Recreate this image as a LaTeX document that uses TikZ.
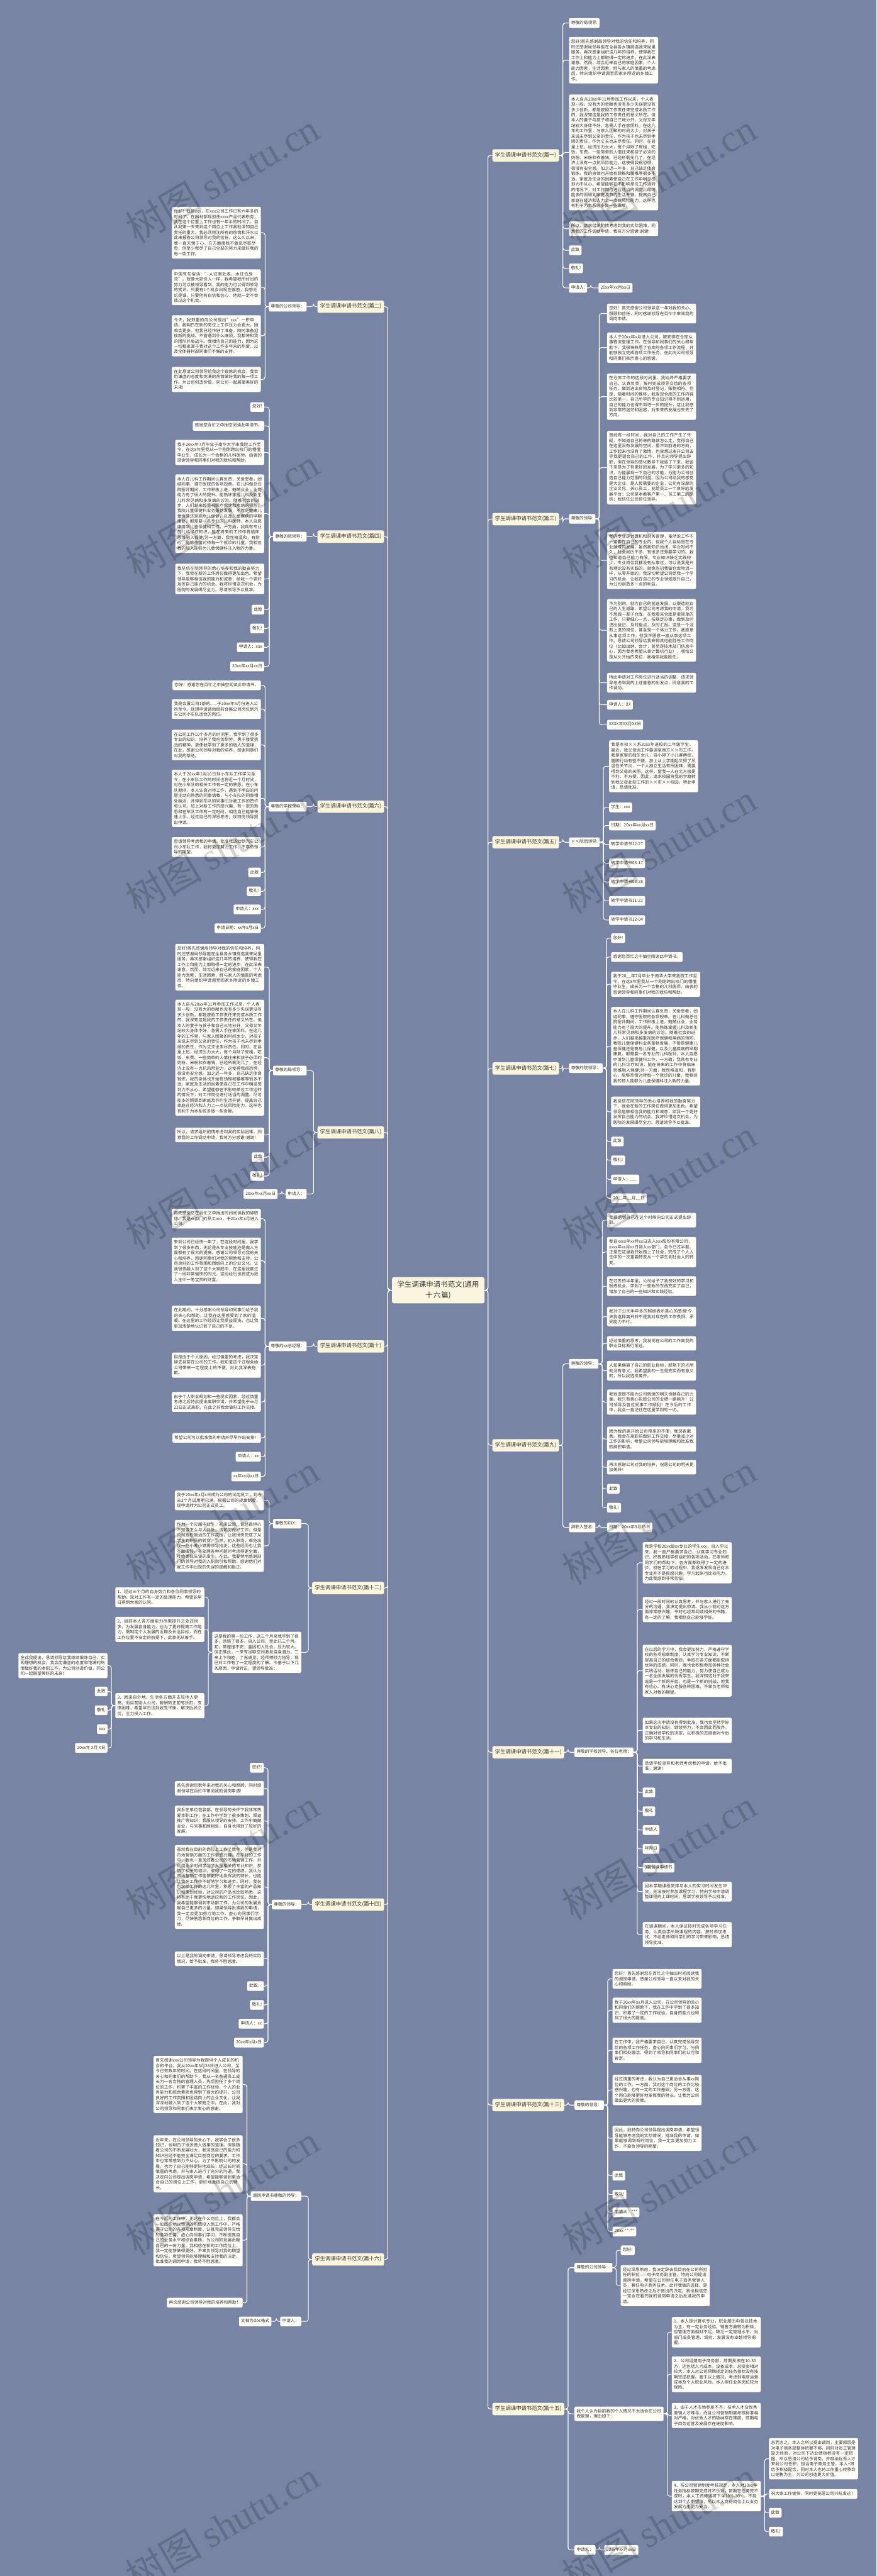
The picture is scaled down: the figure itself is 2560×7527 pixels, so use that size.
\documentclass[tikz,border=0pt]{standalone}
\usepackage{fontspec}
\setmainfont{Noto Sans CJK SC}
\newfontfamily\wmlat{Liberation Serif}
\XeTeXlinebreaklocale "zh"
\XeTeXlinebreakskip=0pt plus 1pt
\definecolor{bgc}{HTML}{7784A4}
\definecolor{boxc}{HTML}{FFFEF8}
\definecolor{ttlc}{HTML}{FBF5DD}
\definecolor{txtc}{HTML}{333333}
\definecolor{linec}{HTML}{FFFFFF}
\tikzset{
  bx/.style={fill=boxc, rounded corners=4pt, inner xsep=6pt, text=txtc, font=\fontsize{12.3}{15.6}\selectfont, align=left},
  sl/.style={bx, inner ysep=6.5pt, text height=10.8pt, text depth=4.4pt},
  para/.style={bx, inner ysep=7.5pt, text width=248pt},
  ttl/.style={fill=ttlc, rounded corners=5pt, inner xsep=8pt, inner ysep=10pt, text height=12pt, text depth=4pt, text=txtc, font=\fontsize{15.3}{18}\selectfont},
  ctr/.style={fill=ttlc, rounded corners=6pt, inner xsep=11pt, inner ysep=12pt, text width=248pt, align=center, text=txtc, font=\fontsize{21}{31}\selectfont},
  conn/.style={draw=linec, line width=2pt, rounded corners=7pt},
  wm/.style={rotate=30, text=black, text opacity=0.17, font=\fontsize{112}{112}\selectfont}
}
\newcommand\conR[2]{\draw[conn] (#1.east) -- ++(11pt,0pt) |- (#2.west);}
\newcommand\conL[2]{\draw[conn] (#1.west) -- ++(-11pt,0pt) |- (#2.east);}
\newcommand\pyiA{您好!首先感谢局领导对我的信任和培养，同时还感谢局领导能在全县各乡镇挑选我来局里服务，再次感谢组织这几年的培养，使得我在工作上和能力上都取得一定的进步，在此深表谢意。然而，综合近来自己的家庭因素，个人能力因素，生活因素，经与家人的慎重的考虑后，特向组织申请调至回家乡附近的乡镇工作。}
\newcommand\pyiB{本人自从20xx年11月参加工作以来，个人表现一般，没有大的贡献也没有多少失误更没有多少创新，都是按照工作责任来完成本质工作的，我深知这是我的工作责任的意义所在。但本人的妻子与孩子和自己三地分开，父母又年纪较大身体不好，急需人手在家照料。在这几年的工作里，与家人团聚的时间太少，对孩子来说未尽到父亲的责任，作为孩子也未尽到孝顺的责任，作为丈夫也未尽责任。同时，在县里上班，经济压力太大，每个月除了房租，吃饭，车费、一些简单的人情往来和孩子必须的奶粉、米粉和衣着钱，已经所剩无几了，在经济上没有一点抗风险能力，这使得我很恐惧，很没有安全感。加之近一年多，自己缺乏体育锻炼，我的身体也开始有颈椎和腰椎等很多不适。家庭及生活的因素使自己在工作中明显感到力不从心。希望能够在不影响单位工作运转的情况下，对工作岗位进行适当的调整。尽可能多的照顾到家庭及节约生活开销，提高自己家庭在经济和人力上一点抗风险能力，这样也有利于为本系统多做一些贡献。}
\newcommand\pyiC{所以，请求组织酌情考虑到我的实际困难，同意我的工作调动申请，我将万分感谢!谢谢!}
\newcommand\pqiA{我于20xx年7月毕业于南华大学来我院工作至今，在这8年里我从一个刚刚跨出校门的懵懂毕业生，成长为一个合格的儿科医师，由衷的感谢领导和同事们对我的栽培和帮助。}
\newcommand\pqiB{本人在儿科工作期间认真负责，关爱患者，团结同事，遵守医院的各项规章。在儿科做总住院医师期间，工作积极上进，兢兢业业，业务能力有了很大的提升。能熟练掌握儿科及新生儿科常见病和多发病的诊治。随着社会的进步，人们越来越重视医疗保健和疾病的预防，我院儿童保健科业务蓬勃发展，不管是健康儿童保健还是高危儿保健，以及儿童疾病的早期康复，都需要一名专业的儿科医师，本人自愿申请到儿童保健科工作，一方面，我具有专业的儿科诊疗知识，能在将来的工作中将临床思维融入保健;另一方面，我性格温和，有耐心，能够热情对待每一个就诊的儿童，我相信我的加入能够为儿童保健科注入新的力量。}
\newcommand\pqiC{我坚信在院领导的悉心培养和我的勤奋努力下，我会在新的工作岗位做得更加出色。希望领导能够相信我的能力和诚意，给我一个更好发挥自己能力的机会。我将珍惜这次机会，为医院的发展竭尽全力。恳请领导予以批准。}
\begin{document}
\begin{tikzpicture}[x=1pt,y=-1pt]
\useasboundingbox (0,0) rectangle (2560,7527);
\fill[bgc] (0,0) rectangle (2560,7527);

% ---------- centre
\node[ctr] (c) at (1280,3770) {学生调课申请书范文(通用\\十六篇)};

% ---------- RIGHT: 篇一
\node[ttl, anchor=west] (t1) at (1438,454) {学生调课申请书范文(篇一)};
\node[sl, anchor=north west] (a1) at (1662,53) {尊敬的局领导:};
\node[para, anchor=north west] (a2) at (1662,108) {\pyiA};
\node[para, anchor=north west] (a3) at (1662,276) {\pyiB};
\node[para, anchor=north west] (a4) at (1662,647) {\pyiC};
\node[sl, anchor=north west] (a5) at (1662,717) {此致};
\node[sl, anchor=north west] (a6) at (1662,770) {敬礼!};
\node[sl, anchor=north west] (a7) at (1662,827) {申请人:};
\node[sl, anchor=north west] (a8) at (1748,827) {20xx年xx月xx日};

% ---------- RIGHT: 篇三
\node[ttl, anchor=west] (t3) at (1438,1517) {学生调课申请书范文(篇三)};
\node[sl, anchor=west] (b0) at (1662,1516) {尊敬的领导:};
\node[para, anchor=north west] (b1) at (1773,887) {您好！首先感谢公司领导这一年对我的关心、照顾和信任，同时感谢领导在百忙中审阅我的调岗申请。};
\node[para, anchor=north west] (b2) at (1773,971) {本人于20xx年x月进入公司，被安排在仓库从事物流管理工作。在领导和同事们的关心和帮助下，我很快熟悉了仓库的各项工作流程，并能够独立完成各项工作任务，在此向公司领导和同事们表示衷心的感谢。};
\node[para, anchor=north west] (b3) at (1773,1091) {在仓库工作的这段时间里，我始终严格要求自己，认真负责，按时完成领导交给的各项任务，做到进出货物及时登记，账物相符。但是，随着时间的推移，我发现仓库的工作内容比较单一，自己所学的专业知识得不到运用，自己的能力也得不到进一步的提升，这让我感到非常的迷茫和困惑，对未来的发展也失去了方向。};
\node[para, anchor=north west] (b4) at (1773,1259) {曾经有一段时间，我对自己的工作产生了怀疑，不知道自己将来的路该怎么走，觉得自己在这里没有发展的空间，看不到前进的方向，工作起来也没有了激情，也曾想过离开公司去寻找更适合自己的工作，并且向领导提出辞职，但在领导的感化教导下我留了下来，我留下来是为了有更好的发展，为了学习更多的知识，为能展现一下自己的才能，为能为公司创造自己能力范围的利益。因为公司给我的感觉是大企业，是人民需要的企业，公司有深厚的企业文化，关心员工，能给员工一个良好的发展平台；公司是本着客户第一、员工第二的原则；我信任公司信任领导。};
\node[para, anchor=north west] (b5) at (1773,1554) {我的专业是计算机和财务管理，虽然说工作不一定要在自己的专业内，但我个人目标是在专业领域内发展，虽然我知识尚浅，毕业时间不久，社会阅历不多，有很多还需要学习的。我也知道自己能力有限，专业知识缺乏实践较少，专业岗位我都没有从事过，可以说我是只有理论没有实践的。就像当初我做仓库物流一样，从零开始的。我深切希望公司给我一个学习的机会，让我在自己的专业领域提升自己，为公司创造多一点的利益。};
\node[para, anchor=north west] (b6) at (1773,1750) {不为别的，就为自己的前途发展，以便造就自己的人生道路，希望公司考虑我的申请。我可不想做一辈子仓库，在我看来仓库是很简单的工作，只要细心一点，按规定办事，做到及时进出登记，及时盘点，及时汇报。这是一个没有上进的岗位，甚至是一个体力工作。我愿意从事这项工作，但我不愿意一直从事这项工作。恳请公司领导给我安排其他能胜任工作岗位（比如出纳、会计，甚至是技术部门信息中心，因为我也希望从事计算机行业），哪怕又是从头开始的岗位，我相信我能胜任。};
\node[para, anchor=north west] (b7) at (1773,1966) {特此申请对工作岗位进行适当的调整，请求领导考虑到我的上述善意的出发点，同意我的工作调动。};
\node[sl, anchor=north west] (b8) at (1773,2045) {申请人：XX};
\node[sl, anchor=north west] (b9) at (1773,2103) {XXXX年XX月XX日};

% ---------- RIGHT: 篇五
\node[ttl, anchor=west] (t5) at (1438,2461) {学生调课申请书范文(篇五)};
\node[sl, anchor=west] (c0) at (1662,2461) {××院团领导:};
\node[para, anchor=north west] (c1) at (1779,2163) {我是本校××系20xx年进校的二年级学生。最近，我父母因工作要调至南方××市工作。我是家里的独生女儿，自小得了小儿麻痹症，腿脚行动有些不便，加上从上学期起又得了风湿性关节炎，一个人独立生活有所困难，需要得到父母的关照，这样，留我一人在北方极是不利，不方便，因此，请求校园将我的学籍转到我父母此刻工作的××市××校园。特此申请，恳请批准。};
\node[sl, anchor=north west] (c2) at (1779,2345) {学生：xxx};
\node[sl, anchor=north west] (c3) at (1779,2398) {日期：20xx年xx月xx日};
\node[sl, anchor=north west] (c4) at (1779,2453) {转学申请书12-27};
\node[sl, anchor=north west] (c5) at (1779,2508) {转学申请书05-17};
\node[sl, anchor=north west] (c6) at (1779,2563) {转学申请书03-28};
\node[sl, anchor=north west] (c7) at (1779,2618) {转学申请书11-21};
\node[sl, anchor=north west] (c8) at (1779,2674) {转学申请书12-04};

% ---------- RIGHT: 篇七
\node[ttl, anchor=west] (t7) at (1438,3122) {学生调课申请书范文(篇七)};
\node[sl, anchor=west] (d0) at (1662,3121) {尊敬的院领导：};
\node[sl, anchor=north west] (d1) at (1785,2727) {您好!};
\node[sl, anchor=north west] (d2) at (1785,2782) {感谢您百忙之中抽空阅读此申请书。};
\node[para, anchor=north west] (d3) at (1785,2839) {我于20\_\_年7月毕业于南华大学来我院工作至今，在这8年里我从一个刚刚跨出校门的懵懂毕业生，成长为一个合格的儿科医师，由衷的感谢领导和同事们对我的栽培和帮助。};
\node[para, anchor=north west] (d4) at (1785,2942) {\pqiB};
\node[para, anchor=north west] (d5) at (1785,3204) {\pqiC};
\node[sl, anchor=north west] (d6) at (1785,3321) {此致};
\node[sl, anchor=north west] (d7) at (1785,3376) {敬礼!};
\node[sl, anchor=north west] (d8) at (1785,3432) {申请人：\_\_\_};
\node[sl, anchor=north west] (d9) at (1785,3487) {20\_\_年\_\_月\_\_日};

% ---------- RIGHT: 篇九
\node[ttl, anchor=west] (t9) at (1438,4223) {学生调课申请书范文(篇九)};
\node[sl, anchor=west] (e0) at (1662,3985) {尊敬的领导：};
\node[para, anchor=north west] (e1) at (1773,3544) {我很遗憾自己在这个时候向公司正式提出辞职。};
\node[para, anchor=north west] (e2) at (1773,3614) {我自xxxx年xx月xx日进入xxx股份有限公司，xxxx年xx月xx日调入xx部门，至今已过半载，正是在这里我开始踏上了社会，完成了个人人生中的一次重要转变从一个学生到社会人的转变。};
\node[para, anchor=north west] (e3) at (1773,3729) {在过去的半年里，公司给予了我良好的学习和锻炼机会，学到了一些新的东西充实了自己，增加了自己的一些知识和实践经验。};
\node[para, anchor=north west] (e4) at (1773,3818) {我对于公司半年多的照顾表示真心的感谢!今天我选择离开并不是我对现在的工作畏惧，承受能力不行。};
\node[para, anchor=north west] (e5) at (1773,3904) {经过慎重的思考，我发现在公司的工作离我的职业目标渐行渐远。};
\node[para, anchor=north west] (e6) at (1773,3976) {人如果偏离了自己的职业目标，那剩下的光阴就没有意义。我希望我的一生是充实而有意义的，所以我选择离开。};
\node[para, anchor=north west] (e7) at (1773,4060) {我很遗憾不能为公司辉煌的明天贡献自己的力量。我只有衷心祝愿公司的业绩一路飙升！公司领导及各位同事工作顺利！在今后的工作中，我会一直记住在这里学到的一切。};
\node[para, anchor=north west] (e8) at (1773,4168) {因为我的离开给公司带来的不便，我深表歉意。我会在离职前做好工作交接，尽量减少对工作的影响，希望公司领导能够理解和批准我的辞职申请。};
\node[para, anchor=north west] (e9) at (1773,4266) {再次感谢公司对我的培养，祝愿公司的明天更加美好！};
\node[sl, anchor=north west] (e10) at (1773,4336) {此致};
\node[sl, anchor=north west] (e11) at (1773,4391) {敬礼!};
\node[sl, anchor=west] (e12) at (1662,4463) {辞职人签名:};
\node[sl, anchor=west] (e13) at (1773,4463) {日期：20xx年3月25日};

% ---------- RIGHT: 篇十一
\node[ttl, anchor=west] (t11) at (1438,5120) {学生调课申请书范文(篇十一)};
\node[sl, anchor=west] (f0) at (1678,5120) {尊敬的学校领导、各位老师：};
\node[para, anchor=north west] (f1) at (1877,4506) {我是学校20xx级xx专业的学生xxx，自入学以来，我一直严格要求自己，认真学习专业知识，积极参加学校组织的各项活动，在老师和同学们的帮助下，各方面都取得了一定的进步。但在学习的过程中，我逐渐发现自己对本专业并不是很感兴趣，学习起来也比较吃力，为此我感到非常苦恼。};
\node[para, anchor=north west] (f2) at (1877,4666) {经过一段时间的认真思考，并与家人进行了充分的沟通，我决定提出申请。我从小就对这方面非常感兴趣，平时也经常阅读相关的书籍，有一定的了解，我相信自己能够学好。};
\node[para, anchor=north west] (f3) at (1877,4806) {在以后的学习中，我会更加努力，严格遵守学校的各项规章制度，认真学习专业知识，不断提高自己的综合素质，争取在各方面都能取得优异的成绩。同时，我也会积极参加各种社会实践活动，锻炼自己的能力，努力使自己成为一名全面发展的优秀学生。我深知这对于我来说是一个新的开始，也是一个新的挑战，但我有信心、有决心克服各种困难，不辜负老师和家人对我的期望。};
\node[para, anchor=north west] (f4) at (1877,5019) {如果这次申请没有得到批准，我也会坚持学好本专业的知识，继续努力，不会因此而放弃，正确对待学校的决定，以积极的态度面对今后的学习和生活。};
\node[para, anchor=north west] (f5) at (1877,5139) {恳请学校领导和老师考虑我的申请，给予批准，谢谢！};
\node[sl, anchor=north west] (f6) at (1877,5223) {此致};
\node[sl, anchor=north west] (f7) at (1877,5278) {敬礼};
\node[sl, anchor=north west] (f8) at (1877,5333) {申请人};
\node[sl, anchor=north west] (f9) at (1877,5388) {年月日};
\node[sl, anchor=north west] (f10) at (1877,5443) {3篇调课申请书};
\node[para, anchor=north west] (f11) at (1877,5498) {因本学期课程安排与本人的实习时间发生冲突，无法按时参加课程学习，特向学校申请调整课程的上课时间，恳请学校领导予以批准。};
\node[para, anchor=north west] (f12) at (1877,5616) {在调课期间，本人保证按时完成各项学习任务，认真自学所缺课程的内容，按时参加考试，不给老师和同学们的学习带来影响，恳请领导批准。};

% ---------- RIGHT: 篇十三
\node[ttl, anchor=west] (t13) at (1438,6151) {学生调课申请书范文(篇十三)};
\node[sl, anchor=west] (g0) at (1678,6151) {尊敬的领导：};
\node[para, anchor=north west] (g1) at (1789,5753) {您好！首先感谢您在百忙之中抽出时间阅读我的调岗申请，感谢公司领导一直以来对我的关心和照顾。};
\node[para, anchor=north west] (g2) at (1789,5837) {我于20xx年xx月进入公司，在公司领导的关心和同事们的帮助下，我在工作中学到了很多知识，积累了一定的工作经验，自身的能力也得到了很大的提高。};
\node[para, anchor=north west] (g3) at (1789,5954) {在工作中，我严格要求自己，认真完成领导交给的各项工作任务，虚心向同事们学习，与同事们相处融洽，得到了领导和同事们的认可和肯定。};
\node[para, anchor=north west] (g4) at (1789,6062) {经过慎重的考虑，我认为自己更适合从事xx岗位的工作。一方面，我对这个岗位的工作比较感兴趣，也有一定的工作基础；另一方面，这个岗位能够更好地发挥我的特长，让我为公司做出更大的贡献。};
\node[para, anchor=north west] (g5) at (1789,6211) {因此，我特向公司领导提出调岗申请，希望领导能够考虑我的实际情况，批准我的申请。如果能够调到新的岗位，我一定会更加努力工作，不辜负领导的期望。};
\node[sl, anchor=north west] (g6) at (1789,6343) {此致};
\node[sl, anchor=north west] (g7) at (1789,6398) {敬礼!};
\node[sl, anchor=north west] (g8) at (1789,6450) {申请人：***};
\node[sl, anchor=north west] (g9) at (1789,6506) {20xx-**-**};

% ---------- RIGHT: 篇十五
\node[ttl, anchor=west] (t15) at (1438,7039) {学生调课申请书范文(篇十五)};
\node[sl, anchor=west] (h0) at (1678,6626) {尊敬的公司领导：};
\node[sl, anchor=north west] (h1) at (1813,6561) {您好!};
\node[para, anchor=north west] (h2) at (1813,6618) {经过深思熟虑，我决定辞去我目前在公司所担任的职位——电子商务副主管，特向公司提出调岗申请，希望在公司担任电子商务营销人员，兼任电子商务技术。此时我做的选择，是经过深思熟虑之后才做出的决定。我也相信您一定会在看完我的调岗申请之后批准我的申请。};
\node[para, anchor=west] (h3) at (1678,7053) {我个人认为目前我的个人情况不太适合在公司做管理，理由如下：};
\node[para, anchor=north west] (h4) at (1962,6770) {1、本人是计算机专业，职业履历中曾以技术为主，有一定业务经验，销售方面较为积极，但管理方面相对不足，缺乏一定管理水平，对部门成员管理、调控、发展没有卓越领导把握。};
\node[para, anchor=north west] (h5) at (1962,6885) {2、公司组建电子商务部，前期投资在10-30万，还包括人力成本，设备成本，总投资相对较大，本人对公司预期规定的任务指标没有按期完成把握。鉴于以上情况，考虑到电商运营成本及个人职业风险，本人担任业务岗位较为保险。};
\node[para, anchor=north west] (h6) at (1962,7021) {3、由于人才市场参差不齐，技术人才及优秀营销人才难寻，而且公司营销制度考核标准相对严格，对优秀人才的吸纳存在难度，前期电子商务运营及发展存在进度影响。};
\node[para, anchor=north west] (h7) at (1962,7249) {4、按公司营销制度考核规定，本人对20xx年任务指标按期完成并不乐观，前期在任务完不成时，本人工资待遇将下浮10\%-30\%，不能达到个人期望值，所以本人觉得岗位上以业务发展为主更为妥当。};
\node[para, anchor=north west] (h8) at (2246,7124) {总而言之，本人之所以提出调岗，主要原因是对电子商务部整体把握不够，同时对员工管理缺乏经验，对公司下达业绩指标没有一定把握，所以恳请公司给予调岗，并吸纳优秀人才来我公司任职，担当电子商务主管，本人+将给予积极配合，同时本人也将工作重心转移到以销售为主，为公司创造更大价值。};
\node[sl, anchor=north west] (h9) at (2246,7273) {祝大家工作愉快，同时更祝愿公司兴旺发达！};
\node[sl, anchor=north west] (h10) at (2246,7328) {此致};
\node[sl, anchor=north west] (h11) at (2246,7383) {敬礼!};
\node[sl, anchor=west] (h12) at (1678,7451) {申请人：};
\node[sl, anchor=west] (h13) at (1765,7451) {20xx年xx月xx日};

% ---------- LEFT: 篇二
\node[ttl, anchor=east] (t2) at (1122,896) {学生调课申请书范文(篇二)};
\node[sl, anchor=east] (i0) at (896,896) {尊敬的公司领导：};
\node[para, anchor=north east] (i1) at (762,604) {你好！我是xxx，在xxx公司工作已有六年多的时间了。在器材部现担任xxxx产品代表职务，我在这个位置上工作也有一年半的时间了。自从我第一天来到这个岗位上工作我就深知自己责任的重大。我必须倾注所有的热情和汗水以此来报答公司领导对我的信任。这么久以来，我一直无愧于心，方方面面我不敢说尽职尽责，但至少我尽了自己全部的努力来做好我的每一项工作。};
\node[para, anchor=north east] (i2) at (762,787) {中国有句俗话："人往高处走，水往低处流"。就像大部份人一样，我希望我所付出的努力可以被领导看到，我的能力可以得到领导的赏识。只要有1个机会出现在面前，我想无论是谁，只要他有自信和信心，他就一定不会放过这个机会。};
\node[para, anchor=north east] (i3) at (762,921) {今天，我郑重的向公司提出"xxx"一职申请。我明白在新的岗位上工作压力会更大，困难会更多。但我已经作好了准备，随时准备迎接新的挑战。不管遇到什么麻烦，我都将和我的团队并肩战斗。我相信自己的能力，因为这一切都来源于我对这个工作多年来的热爱，以及全体器材部同事们不懈的支持。};
\node[para, anchor=north east] (i4) at (762,1072) {在此恳请公司领导给我这个锻炼的机会，我会用谦虚的态度和饱满的热情做好我的每一项工作。为公司创造价值，同公司一起展望美好的未来!};

% ---------- LEFT: 篇四
\node[ttl, anchor=east] (t4) at (1122,1568) {学生调课申请书范文(篇四)};
\node[sl, anchor=east] (j0) at (896,1568) {尊敬的院领导：};
\node[sl, anchor=north east] (j1) at (772,1175) {您好!};
\node[sl, anchor=north east] (j2) at (772,1230) {感谢您百忙之中抽空阅读此申请书。};
\node[para, anchor=north east] (j3) at (772,1285) {\pqiA};
\node[para, anchor=north east] (j4) at (772,1386) {\pqiB};
\node[para, anchor=north east] (j5) at (772,1647) {\pqiC};
\node[sl, anchor=north east] (j6) at (772,1767) {此致};
\node[sl, anchor=north east] (j7) at (772,1822) {敬礼!};
\node[sl, anchor=north east] (j8) at (772,1877) {申请人：xxx};
\node[sl, anchor=north east] (j9) at (772,1933) {20xx年xx月xx日};

% ---------- LEFT: 篇六
\node[ttl, anchor=east] (t6) at (1122,2357) {学生调课申请书范文(篇六)};
\node[sl, anchor=east] (k0) at (896,2357) {尊敬的学校领导：};
\node[sl, anchor=north east] (k1) at (762,1988) {您好！感谢您在百忙之中抽空阅读此申请书。};
\node[para, anchor=north east] (k2) at (762,2043) {我是会展公司1部的......于20xx年5月份进入公司至今。现想申请调动目前会展公司岗位到汽车公司小车队适合的岗位。};
\node[para, anchor=north east] (k3) at (762,2132) {在公司工作10个多月的时间里，我学到了很多专业的知识，培养了我吃苦耐劳，勇于接受挑战的精神，更使我学到了更多的做人的道理，在此，感谢公司领导对我的培养，感谢同事们对我的帮助。};
\node[para, anchor=north east] (k4) at (762,2249) {本人于20xx年2月10日到小车队工作学习至今，在小车队工作的时间也将近一个月时间，对在小车队的相关工作有一定的熟悉。在小车队期间，本人认真对待工作，遇到不明白的问题主动向熟悉的同事请教，与小车队的同事相处融洽，并得到车队的同事们对我工作的赞许和认可。加上对新工作的感兴趣，有一定的熟悉和在车队工作有一定时间，相信自己能够快速上手。经过自己的深思考虑，现特向领导提出申请。};
\node[para, anchor=north east] (k5) at (762,2446) {恳请领导考虑我的申请，批准我调动到汽车公司小车队工作，我将更加努力工作，不辜负领导的期望。};
\node[sl, anchor=north east] (k6) at (762,2535) {此致};
\node[sl, anchor=north east] (k7) at (762,2590) {敬礼!};
\node[sl, anchor=north east] (k8) at (762,2643) {申请人：xxx};
\node[sl, anchor=north east] (k9) at (762,2698) {申请日期：xx年x月x日};

% ---------- LEFT: 篇八
\node[ttl, anchor=east] (t8) at (1122,3309) {学生调课申请书范文(篇八)};
\node[sl, anchor=east] (l0) at (896,3128) {尊敬的局领导：};
\node[para, anchor=north east] (l1) at (772,2758) {\pyiA};
\node[para, anchor=north east] (l2) at (772,2921) {\pyiB};
\node[para, anchor=north east] (l3) at (772,3295) {\pyiC};
\node[sl, anchor=north east] (l4) at (772,3367) {此致};
\node[sl, anchor=north east] (l5) at (772,3422) {敬礼!};
\node[sl, anchor=east] (l6) at (896,3489) {申请人：};
\node[sl, anchor=east] (l7) at (811,3489) {20xx年xx月xx日};

% ---------- LEFT: 篇十
\node[ttl, anchor=east] (t10) at (1122,3934) {学生调课申请书范文(篇十)};
\node[sl, anchor=east] (m0) at (896,3934) {尊敬的xx总经理：};
\node[para, anchor=north east] (m1) at (762,3532) {首先感谢您在百忙之中抽出时间阅读我的辞职信。我是xx部门的员工xxx，于20xx年x月进入公司。};
\node[para, anchor=north east] (m2) at (762,3616) {来到公司已经快一年了，在这段时间里，我学到了很多东西，无论是从专业技能还是做人方面都有了很大的提高。感谢公司领导对我的关心和培养，感谢同事们对我的帮助和支持。公司良好的工作氛围和团结向上的企业文化，让我很快融入到了这个大家庭中，在这里我度过了一段非常愉快的时光，这段经历也将成为我人生中一笔宝贵的财富。};
\node[para, anchor=north east] (m3) at (762,3815) {在此期间，十分感谢公司领导和同事们给予我的关心和帮助，让我在这里感受到了家的温暖。在这里的工作经历让我受益匪浅，也让我更加清楚地认识到了自己的不足。};
\node[para, anchor=north east] (m4) at (762,3952) {但是由于个人原因，经过慎重的考虑，我决定辞去目前在公司的工作。我知道这个过程会给公司带来一定程度上的不便，对此我深表抱歉。};
\node[para, anchor=north east] (m5) at (762,4067) {由于个人职业规划和一些现实因素，经过慎重考虑之后特此提出离职申请，并希望能于xx月22日正式离职，在此之前我会做好工作交接。};
\node[sl, anchor=north east] (m6) at (762,4187) {希望公司可以批准我的申请并尽早作出安排！};
\node[sl, anchor=north east] (m7) at (762,4242) {申请人：xx};
\node[sl, anchor=north east] (m8) at (762,4300) {xx年xx月xx日};

% ---------- LEFT: 篇十二
\node[ttl, anchor=east] (t12) at (1122,4640) {学生调课申请书范文(篇十二)};
\node[sl, anchor=east] (n0) at (880,4452) {尊敬的XXX：};
\node[para, anchor=north east] (n1) at (771,4355) {我于20xx年x月x日成为公司的试用员工，到今天3个月试用期已满，根据公司的规章制度，现申请转为公司正式员工。};
\node[para, anchor=north east] (n2) at (771,4441) {作为一个应届毕业生，初来公司，曾经很担心不知该怎么与人共处，该如何做好工作；但是公司宽松融洽的工作氛围，让我很快完成了从学生到职员的转变。当然，初入职场，难免出现一些小差小错需领导指正；这些经历也让我不断成熟，在处理各种问题时考虑得更全面，杜绝类似失误的发生。在此，我要特地感谢部门的领导对我的入职指引和帮助，感谢他们对我工作中出现的失误的提醒和指正。};
\node[para, anchor=east] (n3) at (880,4828) {这是我的第一份工作，这三个月来我学到了很多，感悟了很多。自入公司，至此已三个月。初，常惶惶不安；盖因初入社会，压力较大。但正惟此，一来有足够空间激发自身潜力，二来上下和睦，了无成见；经师傅倾力指导，现已对工作有了一定程度的了解。今基于以下几条原因，申请转正，望领导批准：};
\node[para, anchor=north east] (n4) at (597,4638) {1、经过三个月的自身努力和各位同事领导的帮助，现对工作有一定的处理能力。希望能早日得到大家的认同。};
\node[para, anchor=north east] (n5) at (597,4724) {2、目前本人各方面能力尚需提升之处还很多，为发展自身能力，也为了更好提高工作能力，需制定个人发展的近期及长远目标，而在工作位置不安定的前提下，此事无从着手。};
\node[para, anchor=north east] (n6) at (597,4947) {3、因来自外地，生活各方面开支较他人更高，而目前刚入公司，薪酬转正前有折扣，支撑困难，希望早日达到收支平衡，解决后顾之忧，全力投入工作。};
\node[para, anchor=north east] (n7) at (314,4830) {在此我提出，恳请领导给我继续锻炼自己、实现理想的机会。我会用谦虚的态度和饱满的热情做好我的本职工作，为公司创造价值，同公司一起展望美好的未来!};
\node[sl, anchor=north east] (n8) at (314,4928) {此致};
\node[sl, anchor=north east] (n9) at (314,4983) {敬礼};
\node[sl, anchor=north east] (n10) at (314,5038) {xxx};
\node[sl, anchor=north east] (n11) at (314,5093) {20xx年 X月 X日};

% ---------- LEFT: 篇十四
\node[ttl, anchor=east] (t14) at (1122,5565) {学生调课申请书范文(篇十四)};
\node[sl, anchor=east] (o0) at (880,5565) {尊敬的领导：};
\node[sl, anchor=north east] (o1) at (771,5151) {您好!};
\node[para, anchor=north east] (o2) at (771,5204) {首先感谢您数年来对我的关心和照顾，同时感谢领导在百忙中审阅我的调岗申请!};
\node[para, anchor=north east] (o3) at (771,5276) {我系在单位包装部，在领导的关怀下我非常热爱本职工作，在工作中学到了很多策划、渠道推广等知识；我服从领导的安排，工作中兢兢业业，与同事和睦相处，自身也得到了较好的发展。};
\node[para, anchor=north east] (o4) at (771,5391) {虽然我在目前的岗位上工作了数年，但是我对市场营销方面的工作更感兴趣。在平时的工作中，我也一直关注着公司的市场营销工作，并利用业余时间学习了大量相关的专业知识，参加了相关的培训，取得了一定的成绩。我认为市场营销工作能够更好地发挥我的特长，也能让我在工作中不断地学习和进步。同时，我在包装部工作的这几年里，积累了丰富的产品知识和策划经验，对公司的产品也比较熟悉，这将有助于我更快地适应新的工作岗位。因此，我希望能够调到市场部工作，为公司的发展贡献自己更多的力量。如果领导批准我的申请，我一定会更加努力地工作，虚心向同事们学习，尽快熟悉新岗位的工作，争取早日做出成绩。};
\node[para, anchor=north east] (o5) at (771,5702) {以上是我的调岗申请，恳请领导考虑我的实际情况，给予批准，我将不胜感激。};
\node[sl, anchor=north east] (o6) at (771,5789) {此致。};
\node[sl, anchor=north east] (o7) at (771,5844) {敬礼!};
\node[sl, anchor=north east] (o8) at (771,5899) {申请人：xx};
\node[sl, anchor=north east] (o9) at (771,5954) {20xx年x月x日};

% ---------- LEFT: 篇十六
\node[ttl, anchor=east] (t16) at (1122,6602) {学生调课申请书范文(篇十六)};
\node[sl, anchor=east] (q0) at (880,6417) {调岗申请书尊敬的领导：};
\node[para, anchor=north east] (q1) at (709,6007) {首先感谢xxx公司领导为我提供个人成长的机会和平台。我从20xx年3月28日进入公司，至今已有数年的时间。在这段时间里，在领导的关心和同事们的帮助下，我从一名普通员工成长为一名合格的管理人员，先后担任了多个岗位的工作，积累了丰富的工作经验，个人的业务能力和综合素质也得到了很大的提升。公司良好的工作氛围和团结向上的企业文化，让我深深地融入到了这个大家庭之中。在此，我对公司领导和同事们表示衷心的感谢。};
\node[para, anchor=north east] (q2) at (709,6239) {近年来，在公司领导的关心下，我学会了很多知识，也明白了很多做人做事的道理。但是随着公司的不断发展壮大，我深感自己的能力和知识已经不能完全满足目前岗位的要求，工作中也常常感到力不从心。为了不影响公司的发展，也为了自己能够更好地成长，经过长时间慎重的考虑，并与家人进行了充分的沟通，我决定向公司提出调岗申请，希望能够调到更适合自己的岗位上工作，更好地发挥自己的特长。};
\node[para, anchor=north east] (q3) at (709,6470) {在今后的工作中，无论在什么岗位上，我都会一如既往地以饱满的热情投入到工作中，严格遵守公司的各项规章制度，认真完成领导交给的各项任务，虚心向同事们学习，不断提高自己的业务水平和综合素质，为公司的发展贡献自己的一份力量。我相信在新的工作岗位上，我一定能够做得更好，不辜负领导对我的期望和信任。希望领导能够理解和支持我的决定，批准我的调岗申请，我将不胜感激。};
\node[sl, anchor=north east] (q4) at (709,6714) {再次感谢公司领导对我的培养和帮助！};
\node[sl, anchor=east] (q5) at (880,6783) {申请人：};
\node[sl, anchor=east] (q6) at (793,6783) {文档为doc格式};

% ---------- connectors
\foreach \t in {t1,t3,t5,t7,t9,t11,t13,t15} {\draw[conn] (c.east) -- ++(10pt,0pt) |- (\t.west);}
\foreach \t in {t2,t4,t6,t8,t10,t12,t14,t16} {\draw[conn] (c.west) -- ++(-12pt,0pt) |- (\t.east);}
\foreach \ch in {a1,a2,a3,a4,a5,a6,a7} {\conR{t1}{\ch}}
\conR{a7}{a8}
\conR{t3}{b0}
\foreach \ch in {b1,b2,b3,b4,b5,b6,b7,b8,b9} {\conR{b0}{\ch}}
\conR{t5}{c0}
\foreach \ch in {c1,c2,c3,c4,c5,c6,c7,c8} {\conR{c0}{\ch}}
\conR{t7}{d0}
\foreach \ch in {d1,d2,d3,d4,d5,d6,d7,d8,d9} {\conR{d0}{\ch}}
\conR{t9}{e0} \conR{t9}{e12} \conR{e12}{e13}
\foreach \ch in {e1,e2,e3,e4,e5,e6,e7,e8,e9,e10,e11} {\conR{e0}{\ch}}
\conR{t11}{f0}
\foreach \ch in {f1,f2,f3,f4,f5,f6,f7,f8,f9,f10,f11,f12} {\conR{f0}{\ch}}
\conR{t13}{g0}
\foreach \ch in {g1,g2,g3,g4,g5,g6,g7,g8,g9} {\conR{g0}{\ch}}
\conR{t15}{h0} \conR{t15}{h3} \conR{t15}{h12} \conR{h12}{h13}
\conR{h0}{h1} \conR{h0}{h2}
\foreach \ch in {h4,h5,h6,h7} {\conR{h3}{\ch}}
\foreach \ch in {h8,h9,h10,h11} {\conR{h7}{\ch}}
\conL{t2}{i0}
\foreach \ch in {i1,i2,i3,i4} {\conL{i0}{\ch}}
\conL{t4}{j0}
\foreach \ch in {j1,j2,j3,j4,j5,j6,j7,j8,j9} {\conL{j0}{\ch}}
\conL{t6}{k0}
\foreach \ch in {k1,k2,k3,k4,k5,k6,k7,k8,k9} {\conL{k0}{\ch}}
\conL{t8}{l0} \conL{t8}{l6} \conL{l6}{l7}
\foreach \ch in {l1,l2,l3,l4,l5} {\conL{l0}{\ch}}
\conL{t10}{m0}
\foreach \ch in {m1,m2,m3,m4,m5,m6,m7,m8} {\conL{m0}{\ch}}
\conL{t12}{n0} \conL{t12}{n3}
\conL{n0}{n1} \conL{n0}{n2}
\foreach \ch in {n4,n5,n6} {\conL{n3}{\ch}}
\foreach \ch in {n7,n8,n9,n10,n11} {\conL{n6}{\ch}}
\conL{t14}{o0}
\foreach \ch in {o1,o2,o3,o4,o5,o6,o7,o8,o9} {\conL{o0}{\ch}}
\conL{t16}{q0} \conL{t16}{q5} \conL{q5}{q6}
\foreach \ch in {q1,q2,q3,q4} {\conL{q0}{\ch}}

% ---------- watermark
\foreach \k in {0,...,7} {
  \node[wm] (wl\k) at (649,520+980*\k) {树图 {\wmlat shutu.cn}};
  \node[wm] (wr\k) at (1925,520+980*\k) {树图 {\wmlat shutu.cn}};
}
\end{tikzpicture}
\end{document}
